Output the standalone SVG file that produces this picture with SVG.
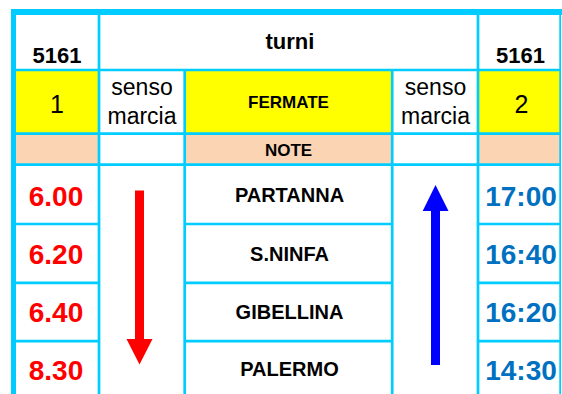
<svg xmlns="http://www.w3.org/2000/svg" width="562" height="394" viewBox="0 0 562 394">
<style>
.g{stroke:#00CCFF;stroke-width:2.7;fill:none}
.t{font-family:"Liberation Sans",Arial,sans-serif;text-anchor:middle;fill:#000}
.b{font-weight:bold}
.hd{font-size:22px;font-weight:bold}
.sm{font-size:17px;font-weight:bold}
.st{font-size:20px;font-weight:bold}
.tm{font-size:28px;font-weight:bold}
.sn{font-size:23px}
.num{font-size:25px}
.red{fill:#FF0000}
.blu{fill:#0070C0}
.y{fill:#FFFF00}
.p{fill:#FBD4B4}
</style>
<rect width="562" height="394" fill="#fff"/>
<g id="fills">
<rect class="y" x="16" y="71" width="83" height="62"/>
<rect class="y" x="185" y="71" width="207" height="62"/>
<rect class="y" x="478" y="71" width="82" height="62"/>
<rect class="p" x="16" y="134" width="83" height="31"/>
<rect class="p" x="185" y="134" width="207" height="31"/>
<rect class="p" x="478" y="134" width="82" height="31"/>
</g>
<g id="grid">
<rect x="11" y="9" width="551" height="6" fill="#00CCFF"/>
<rect x="11" y="9" width="5" height="385" fill="#00CCFF"/>
<line class="g" x1="560.2" y1="15" x2="560.2" y2="394" style="stroke-width:1.8"/>
<line class="g" x1="99" y1="15" x2="99" y2="394"/>
<line class="g" x1="478" y1="15" x2="478" y2="394"/>
<line class="g" x1="184.7" y1="70" x2="184.7" y2="394"/>
<line class="g" x1="392.2" y1="70" x2="392.2" y2="394"/>
<line class="g" x1="16" y1="70" x2="561" y2="70"/>
<line class="g" x1="16" y1="133.7" x2="561" y2="133.7"/>
<line class="g" x1="16" y1="164.7" x2="561" y2="164.7"/>
<line class="g" x1="16" y1="224" x2="99" y2="224"/>
<line class="g" x1="16" y1="282.8" x2="99" y2="282.8"/>
<line class="g" x1="16" y1="341.2" x2="99" y2="341.2"/>
<line class="g" x1="184.7" y1="224" x2="392.2" y2="224"/>
<line class="g" x1="184.7" y1="282.8" x2="392.2" y2="282.8"/>
<line class="g" x1="184.7" y1="341.2" x2="392.2" y2="341.2"/>
<line class="g" x1="478" y1="224" x2="561" y2="224"/>
<line class="g" x1="478" y1="282.8" x2="561" y2="282.8"/>
<line class="g" x1="478" y1="341.2" x2="561" y2="341.2"/>
</g>
<g id="header">
<text class="t hd" x="57" y="62.5">5161</text>
<text class="t hd" x="290" y="49">turni</text>
<text class="t hd" x="520.5" y="62.5">5161</text>
</g>
<g id="row-fermate">
<text class="t num" x="57" y="113">1</text>
<text class="t sn" x="142" y="95">senso</text>
<text class="t sn" x="142" y="123.5">marcia</text>
<text class="t sm" x="288.5" y="108.3">FERMATE</text>
<text class="t sn" x="435.5" y="95">senso</text>
<text class="t sn" x="435.5" y="123.5">marcia</text>
<text class="t num" x="521.5" y="113">2</text>
</g>
<g id="row-note">
<text class="t sm" x="288.5" y="156">NOTE</text>
</g>
<g id="stop-partanna">
<text class="t tm red" x="56" y="205.5">6.00</text>
<text class="t st" x="289.5" y="202">PARTANNA</text>
<text class="t tm blu" x="521" y="205.5">17:00</text>
</g>
<g id="stop-sninfa">
<text class="t tm red" x="56" y="264">6.20</text>
<text class="t st" x="289.5" y="261">S.NINFA</text>
<text class="t tm blu" x="521" y="264">16:40</text>
</g>
<g id="stop-gibellina">
<text class="t tm red" x="56" y="322">6.40</text>
<text class="t st" x="289.5" y="319.3">GIBELLINA</text>
<text class="t tm blu" x="521" y="322">16:20</text>
</g>
<g id="stop-palermo">
<text class="t tm red" x="56" y="380">8.30</text>
<text class="t st" x="289.5" y="376">PALERMO</text>
<text class="t tm blu" x="521" y="380">14:30</text>
</g>
<g id="connectors">
<path d="M135,190.5 V339 H126.5 L139.5,364.5 L152.5,339 H144 V190.5 Z" fill="#FF0000"/>
<path d="M431,365 V211 H422.7 L435.5,185 L448.5,211 H440 V365 Z" fill="#0000FF"/>
</g>
</svg>
